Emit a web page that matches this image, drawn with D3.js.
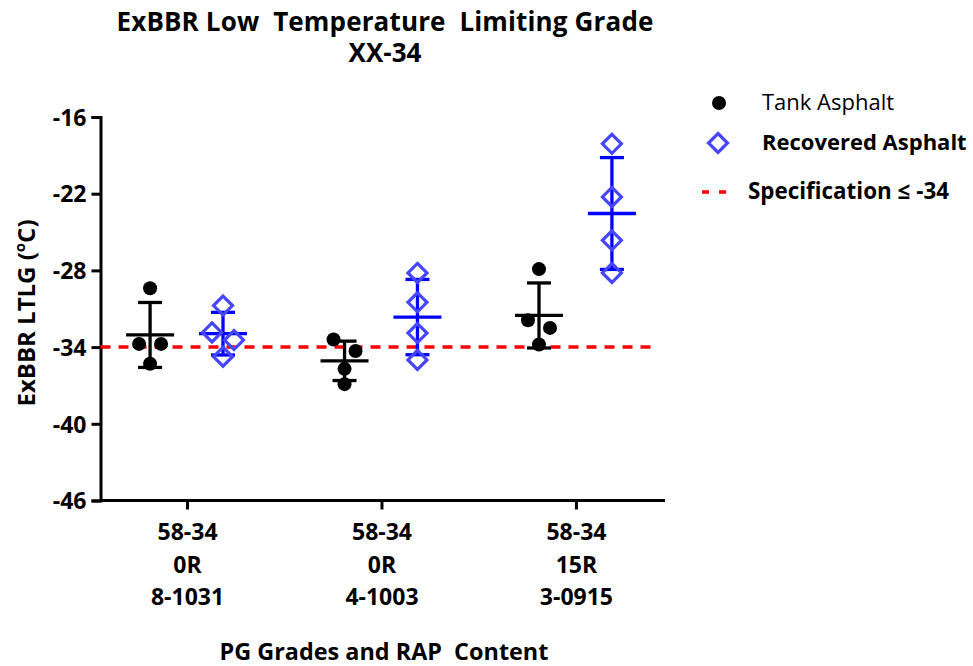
<!DOCTYPE html>
<html>
<head>
<meta charset="utf-8">
<script src="https://cdn.jsdelivr.net/npm/d3@7"></script>
<style>
  html, body { margin: 0; padding: 0; background: #fff; }
  svg { display: block; font-family: "Open Sans", Lato, sans-serif; }
  text { white-space: pre; }
</style>
</head>
<body>
<svg id="chart" width="973" height="666"></svg>
<script>
// ExBBR low temperature limiting grade, tank vs recovered binder (°C)
const categories = [
  ["58-34", "0R", "8-1031"],
  ["58-34", "0R", "4-1003"],
  ["58-34", "15R", "3-0915"]
];
const tankValues = [
  [-29.4, -33.75, -33.75, -35.3],
  [-33.4, -34.3, -35.7, -36.9],
  [-27.9, -31.9, -32.5, -33.8]
];
const recoveredValues = [
  [-30.75, -32.85, -33.45, -34.75],
  [-28.2, -30.5, -32.9, -35.0],
  [-18.1, -22.25, -25.65, -28.2]
];
const yTicks = [-16, -22, -28, -34, -40, -46];
const specLimit = -34;

const FONT = "'Open Sans', Lato, sans-serif";
const svg = d3.select("#chart");

// scales: category i sits at x = i + 1
const x = d3.scaleLinear().domain([0.555, 3.458]).range([100.5, 665]);
const y = d3.scaleLinear().domain([-46, -16]).range([500.5, 117]);

const groupOffset = { tank: -0.19, recovered: 0.185 };

// --- axes ---
const yAxis = svg.append("g")
  .attr("transform", `translate(${x.range()[0]},0)`)
  .call(d3.axisLeft(y).tickValues(yTicks).tickSize(9).tickPadding(5).tickFormat(d => String(d)));
yAxis.select(".domain").attr("stroke", "#000").attr("stroke-width", 3);
yAxis.selectAll(".tick line").attr("stroke", "#000").attr("stroke-width", 3);
yAxis.selectAll(".tick text")
  .attr("fill", "#000").attr("font-size", 23).attr("font-weight", 700)
  .attr("font-family", FONT).attr("dy", "0.36em");

const xAxis = svg.append("g")
  .attr("transform", `translate(0,${y.range()[0]})`)
  .call(d3.axisBottom(x).tickValues(categories.map((c, i) => i + 1)).tickSize(9).tickFormat(""));
xAxis.select(".domain").attr("stroke", "#000").attr("stroke-width", 3)
  .attr("d", `M${x.range()[0]},0H${x.range()[1]}`);
xAxis.selectAll(".tick line").attr("stroke", "#000").attr("stroke-width", 3);
xAxis.selectAll(".tick").each(function (d, i) {
  const t = d3.select(this).append("text")
    .attr("fill", "#000").attr("font-size", 23).attr("font-weight", 700)
    .attr("font-family", FONT).attr("text-anchor", "middle");
  categories[i].forEach((line, k) => {
    t.append("tspan").attr("x", 0).attr("y", 39.5 + k * 32.5).text(line);
  });
});

// --- specification line ---
svg.append("line")
  .attr("x1", x(0.555)).attr("x2", x(3.39))
  .attr("y1", y(specLimit)).attr("y2", y(specLimit))
  .attr("stroke", "#ff0000").attr("stroke-width", 3.5)
  .attr("stroke-dasharray", "10,8");

// horizontal spread of points with nearly equal values
function spread(values) {
  const order = values.map((v, i) => ({ v, i, py: y(v) })).sort((a, b) => a.py - b.py);
  const offs = new Array(values.length).fill(0);
  let cluster = [order[0]];
  const flush = () => {
    const n = cluster.length;
    cluster.forEach((p, k) => { offs[p.i] = (k - (n - 1) / 2) * 22; });
  };
  for (let k = 1; k < order.length; k++) {
    if (order[k].py - order[k - 1].py < 14) cluster.push(order[k]);
    else { flush(); cluster = [order[k]]; }
  }
  flush();
  return offs;
}

function stats(vals) {
  const m = d3.mean(vals), s = d3.deviation(vals);
  return { m, lo: m - s, hi: m + s };
}

function drawSeries(valuesByCat, key, markerFn, barColor) {
  const g = svg.append("g");
  valuesByCat.forEach((vals, i) => {
    const cx = x(i + 1 + groupOffset[key]);
    const st = stats(vals);
    const eb = g.append("g").attr("stroke", barColor).attr("stroke-width", 3.3);
    eb.append("line").attr("x1", cx).attr("x2", cx).attr("y1", y(st.hi)).attr("y2", y(st.lo));
    eb.append("line").attr("x1", cx - 12).attr("x2", cx + 12).attr("y1", y(st.hi)).attr("y2", y(st.hi));
    eb.append("line").attr("x1", cx - 12).attr("x2", cx + 12).attr("y1", y(st.lo)).attr("y2", y(st.lo));
    eb.append("line").attr("x1", cx - 24).attr("x2", cx + 24).attr("y1", y(st.m)).attr("y2", y(st.m));
    const offs = spread(vals);
    vals.forEach((v, j) => markerFn(g, cx + offs[j], y(v)));
  });
}

const circle = (g, cx, cy) => g.append("circle")
  .attr("cx", cx).attr("cy", cy).attr("r", 7).attr("fill", "#000");
const diamond = (g, cx, cy) => g.append("path")
  .attr("d", `M${cx},${cy - 9.5}L${cx + 9.5},${cy}L${cx},${cy + 9.5}L${cx - 9.5},${cy}Z`)
  .attr("fill", "none").attr("stroke", "#4646ff").attr("stroke-width", 3.2);

drawSeries(tankValues, "tank", circle, "#000");
drawSeries(recoveredValues, "recovered", diamond, "#0000ff");

// --- titles ---
const titleAttrs = t => t.attr("text-anchor", "middle").attr("font-size", 26)
  .attr("font-weight", 700).attr("fill", "#000");
svg.append("text").call(titleAttrs).attr("x", 385).attr("y", 31)
  .attr("letter-spacing", 0.15)
  .text("ExBBR Low  Temperature  Limiting Grade");
svg.append("text").call(titleAttrs).attr("x", 385).attr("y", 62).text("XX-34");

svg.append("text").attr("x", 384).attr("y", 660).attr("text-anchor", "middle")
  .attr("font-size", 23.4).attr("font-weight", 700).attr("fill", "#000")
  .text("PG Grades and RAP  Content");

const yt = svg.append("text")
  .attr("transform", "translate(35,313) rotate(-90)")
  .attr("text-anchor", "middle").attr("font-size", 24).attr("font-weight", 700).attr("fill", "#000");
yt.append("tspan").text("ExBBR LTLG (");
yt.append("tspan").attr("font-size", 15).attr("dy", "-0.7em").text("o");
yt.append("tspan").attr("dy", "0.44em").text("C)");

// --- legend ---
const lg = svg.append("g");
circle(lg, 719, 103);
lg.append("text").attr("x", 762).attr("y", 110).attr("font-size", 22).attr("fill", "#000").text("Tank Asphalt");
diamond(lg, 718, 143);
lg.append("text").attr("x", 762).attr("y", 150).attr("font-size", 22).attr("font-weight", 700).attr("fill", "#000").text("Recovered Asphalt");
lg.append("line").attr("x1", 702).attr("x2", 726).attr("y1", 192).attr("y2", 192)
  .attr("stroke", "#ff0000").attr("stroke-width", 3.5).attr("stroke-dasharray", "7,10");
lg.append("text").attr("x", 748).attr("y", 199).attr("font-size", 22.4).attr("font-weight", 700).attr("fill", "#000").text(`Specification \u2264 ${specLimit}`);
</script>
</body>
</html>
